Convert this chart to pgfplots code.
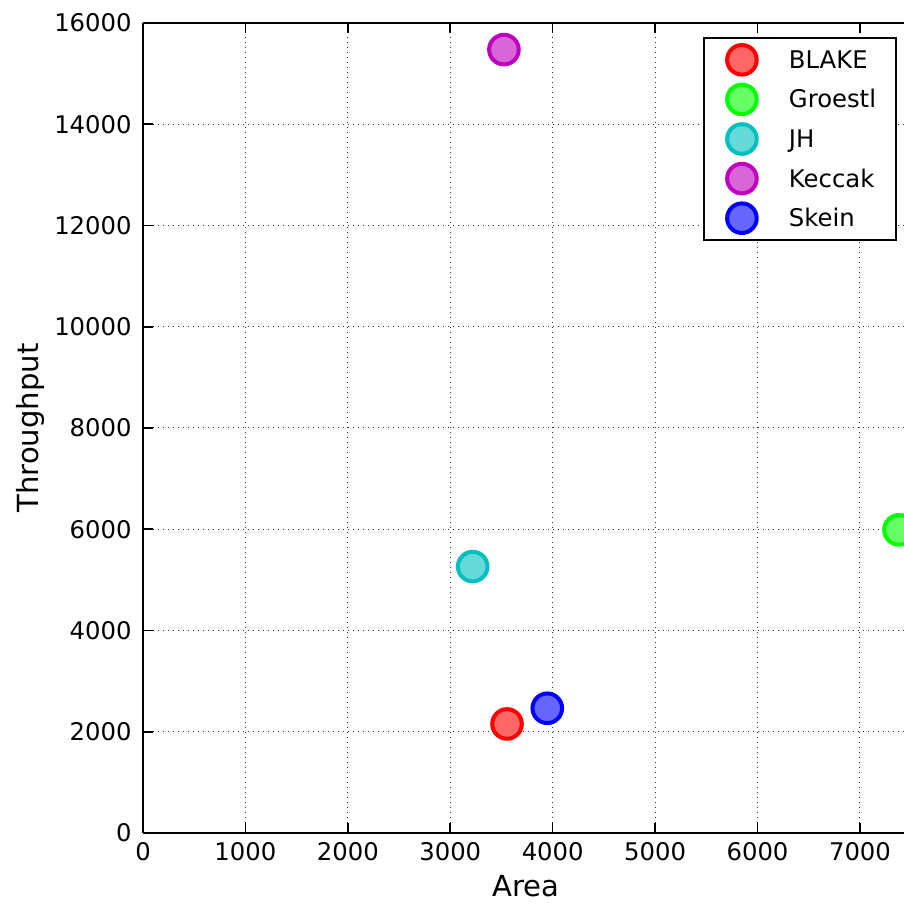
\documentclass[border=0pt]{standalone}
\usepackage{pgfplots}
\pgfplotsset{compat=1.18}
\usepackage{fontspec}
\setmainfont{DejaVu Sans}
\definecolor{mred}{rgb}{1,0,0}
\definecolor{mgreen}{rgb}{0,1,0}
\definecolor{mcyan}{rgb}{0,0.75,0.75}
\definecolor{mmag}{rgb}{0.75,0,0.75}
\definecolor{mblue}{rgb}{0,0,1}
\begin{document}
\begin{tikzpicture}
\clip (-71.5bp,-35.5bp) rectangle (380.5bp,416.5bp);
\begin{axis}[
  scale only axis, width=380.5bp, height=405bp,
  xmin=0, xmax=7430, ymin=0, ymax=16000,
  axis x line*=box, axis y line*=left,
  axis line style={line width=1bp, black},
  xtick={0,1000,...,7000}, ytick={0,2000,...,16000},
  scaled ticks=false,
  /pgf/number format/1000 sep={},
  /pgf/number format/assume math mode=true,
  tick align=inside, major tick length=5bp,
  tick style={line width=0.8bp, black},
  ticklabel style={font=\fontsize{12.2}{14}\selectfont, inner sep=0pt},
  yticklabel style={xshift=-5.5bp},
  xticklabel style={yshift=-4.5bp},
  grid=major,
  major grid style={black!80, line width=0.5bp, dash pattern=on 0.7bp off 1.8bp},
  xlabel={Area}, ylabel={Throughput},
  label style={font=\fontsize{14.6}{17}\selectfont},
  xlabel style={at={(axis description cs:0.503,-0.0654)}, anchor=center},
  ylabel style={at={(axis description cs:-0.1485,0.5)}, anchor=center, rotate=0},
  legend image code/.code={%
    \path (-2bp,0) (0.6cm,0);
    \draw[#1] plot coordinates {(0.3cm,0cm)};},
  legend style={at={(0.9908,0.9827)}, anchor=north east, draw=black, line width=1bp,
    font=\fontsize{12.2}{14}\selectfont, inner xsep=8bp, inner ysep=3.5bp,
    column sep=12.5bp, row sep=5bp,
    nodes={inner sep=2bp, text height=9.5bp, text depth=1bp}},
  legend cell align=left,
]
\addplot[only marks, mark=*, mark size=7.4bp, mark options={draw=mred, fill=mred!60, line width=2bp}] coordinates {(3554,2154)};
\addlegendentry{BLAKE}
\addplot[only marks, mark=*, mark size=7.4bp, mark options={draw=mgreen, fill=mgreen!60, line width=2bp}] coordinates {(7381,5988)};
\addlegendentry{Groestl}
\addplot[only marks, mark=*, mark size=7.4bp, mark options={draw=mcyan, fill=mcyan!60, line width=2bp}] coordinates {(3219,5263)};
\addlegendentry{JH}
\addplot[only marks, mark=*, mark size=7.4bp, mark options={draw=mmag, fill=mmag!60, line width=2bp}] coordinates {(3524,15474)};
\addlegendentry{Keccak}
\addplot[only marks, mark=*, mark size=7.4bp, mark options={draw=mblue, fill=mblue!60, line width=2bp}] coordinates {(3947,2464)};
\addlegendentry{Skein}
\end{axis}
\end{tikzpicture}
\end{document}
